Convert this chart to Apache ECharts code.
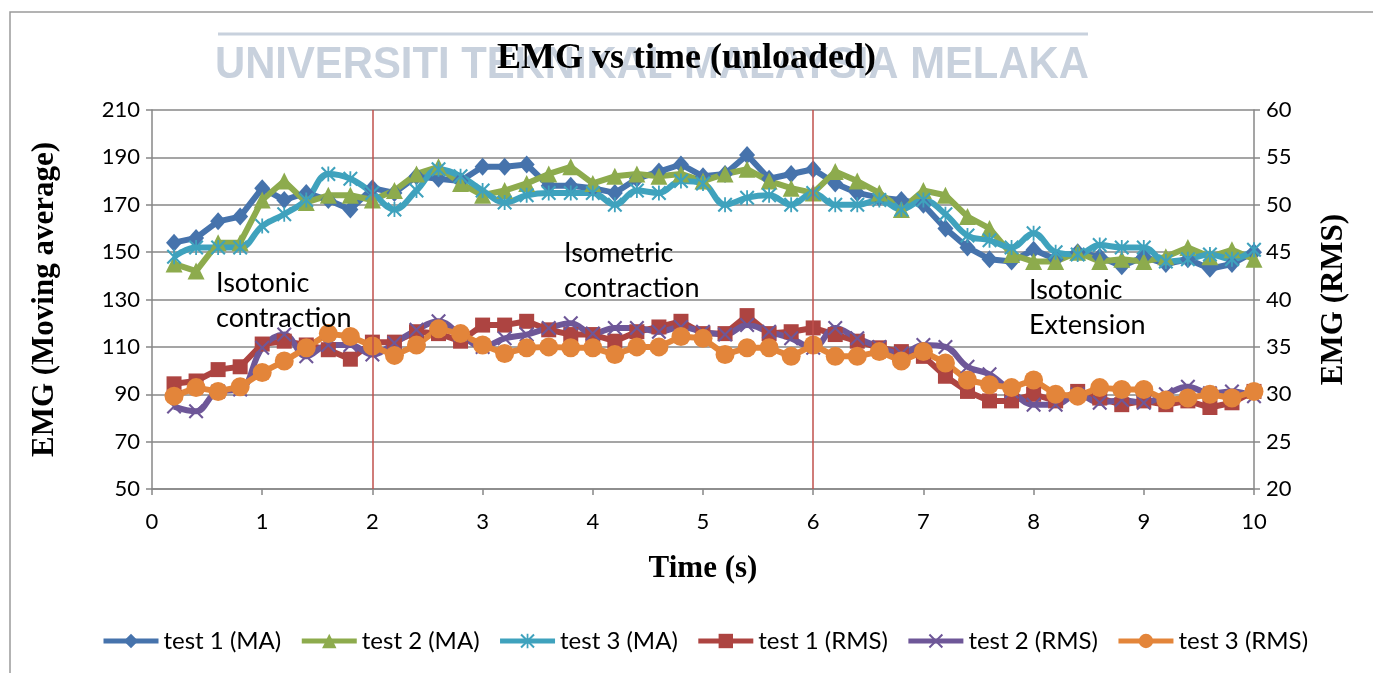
<!DOCTYPE html>
<html>
<head>
<meta charset="utf-8">
<title>EMG vs time (unloaded)</title>
<script src="https://cdn.jsdelivr.net/npm/echarts@6/dist/echarts.min.js"></script>
<style>
  html, body { margin: 0; padding: 0; background: #ffffff; }
  #chart { width: 1373px; height: 673px; }
</style>
</head>
<body>
<div id="chart"></div>
<script>
// Sample times (s)
const timeS = [0.2, 0.4, 0.6, 0.8, 1.0, 1.2, 1.4, 1.6, 1.8, 2.0,
               2.2, 2.4, 2.6, 2.8, 3.0, 3.2, 3.4, 3.6, 3.8, 4.0,
               4.2, 4.4, 4.6, 4.8, 5.0, 5.2, 5.4, 5.6, 5.8, 6.0,
               6.2, 6.4, 6.6, 6.8, 7.0, 7.2, 7.4, 7.6, 7.8, 8.0,
               8.2, 8.4, 8.6, 8.8, 9.0, 9.2, 9.4, 9.6, 9.8, 10.0];

// Moving-average EMG (left axis)
const test1MA = [154, 156, 163, 165, 177, 172, 175, 172, 168, 177,
                 175, 182, 181, 180, 186, 186, 187, 178, 178, 177,
                 175, 181, 184, 187, 182, 183, 191, 181, 183, 185,
                 179, 175, 173, 172, 170, 160, 152, 147, 146, 151,
                 147, 150, 148, 144, 148, 145, 147, 143, 145, 150];
const test2MA = [145, 142, 154, 154, 172, 180, 171, 174, 174, 172,
                 176, 183, 186, 179, 174, 176, 179, 183, 186, 179,
                 182, 183, 182, 183, 180, 183, 185, 180, 177, 175,
                 184, 180, 175, 168, 176, 174, 165, 160, 149, 146,
                 146, 150, 146, 147, 146, 148, 152, 148, 151, 147];
const test3MA = [148, 152, 152, 152, 161, 166, 172, 183, 181, 175,
                 168, 176, 185, 182, 176, 171, 174, 175, 175, 175,
                 170, 176, 175, 180, 179, 170, 173, 174, 170, 175,
                 170, 170, 172, 168, 172, 166, 157, 155, 152, 158,
                 150, 149, 153, 152, 152, 146, 147, 149, 147, 151];

// RMS EMG (right axis)
const test1RMS = [31.1, 31.4, 32.6, 32.9, 35.3, 35.6, 35.2, 34.7, 33.7, 35.5,
                  35.5, 36.6, 36.4, 35.6, 37.3, 37.3, 37.7, 36.8, 36.3, 36.3,
                  35.6, 36.6, 37.1, 37.7, 36.4, 36.4, 38.3, 36.4, 36.6, 37.0,
                  36.3, 35.6, 34.9, 34.5, 34.0, 31.9, 30.3, 29.3, 29.3, 30.0,
                  29.3, 30.3, 29.6, 28.9, 29.3, 28.9, 29.3, 28.6, 29.1, 30.3];
const test2RMS = [28.7, 28.2, 30.3, 30.5, 34.9, 36.3, 34.0, 35.2, 35.2, 34.2,
                  35.4, 36.8, 37.7, 36.3, 35.0, 35.9, 36.3, 37.0, 37.5, 36.4,
                  37.0, 37.0, 36.6, 37.1, 36.6, 36.3, 37.3, 36.6, 35.9, 34.9,
                  37.0, 35.9, 35.0, 34.3, 35.2, 35.0, 32.9, 32.1, 30.3, 28.9,
                  28.9, 30.0, 29.1, 29.4, 29.1, 30.0, 30.8, 30.1, 30.3, 29.8];
const test3RMS = [29.8, 30.7, 30.3, 30.8, 32.3, 33.5, 34.9, 36.4, 36.1, 35.1,
                  34.1, 35.2, 36.9, 36.4, 35.2, 34.3, 34.9, 35.0, 34.9, 34.9,
                  34.2, 35.0, 35.0, 36.1, 35.9, 34.2, 34.9, 34.9, 34.0, 35.2,
                  34.0, 34.0, 34.5, 33.5, 34.5, 33.3, 31.5, 31.0, 30.7, 31.5,
                  30.0, 29.8, 30.7, 30.5, 30.5, 29.4, 29.6, 30.0, 29.6, 30.3];

// Axis ticks and phase boundaries (s)
const timeTicks = { min: 0, max: 10, step: 1 };
const maTicks = { min: 50, max: 210, step: 20 };
const rmsTicks = { min: 20, max: 60, step: 5 };
const phaseBoundaries = [2, 6];

const seriesNames = ['test 1 (MA)', 'test 2 (MA)', 'test 3 (MA)',
                     'test 1 (RMS)', 'test 2 (RMS)', 'test 3 (RMS)'];

const colors = ['#4673AC', '#8DAB4D', '#3FA2BD', '#AD4441', '#6E5798', '#E3853A'];

// Marker shapes: asterisk (x plus vertical bar) and plain x
const starSymbol = 'path://M0,1L1,0L5,4L9,0L10,1L6,5L10,9L9,10L5,6L1,10L0,9L4,5ZM4.4,0L5.6,0L5.6,10L4.4,10Z';
const crossSymbol = 'path://M0,1L1,0L5,4L9,0L10,1L6,5L10,9L9,10L5,6L1,10L0,9L4,5Z';

const pairs = ys => timeS.map((t, i) => [t, ys[i]]);

const uiFont = 'Lato, "Open Sans", sans-serif';
const serifFont = '"Liberation Serif", "DejaVu Serif", serif';
const gridGray = '#878787';

function lineSeries(idx, values, axisIdx, symbol, size, smooth) {
  return {
    name: seriesNames[idx],
    type: 'line',
    yAxisIndex: axisIdx,
    data: pairs(values),
    smooth: smooth,
    symbol: symbol,
    symbolSize: size,
    showAllSymbol: true,
    color: colors[idx],
    lineStyle: { width: 6, color: colors[idx] },
    itemStyle: { color: colors[idx], borderWidth: 0 },
    emphasis: { disabled: true },
    animation: false
  };
}

const series = [
  lineSeries(0, test1MA, 0, 'diamond', [16, 18], false),
  lineSeries(1, test2MA, 0, 'triangle', 17, false),
  lineSeries(2, test3MA, 0, starSymbol, 15, 0.4),
  lineSeries(3, test1RMS, 1, 'rect', 15, false),
  lineSeries(4, test2RMS, 1, crossSymbol, 15, 0.4),
  lineSeries(5, test3RMS, 1, 'circle', 19, false)
];

// Phase boundary lines
series[0].markLine = {
  silent: true,
  symbol: 'none',
  label: { show: false },
  lineStyle: { color: '#C0504D', width: 1.5, type: 'solid' },
  data: phaseBoundaries.map(v => ({ xAxis: v }))
};

const chart = echarts.init(document.getElementById('chart'), null, { renderer: 'canvas' });

chart.setOption({
  backgroundColor: '#ffffff',
  animation: false,
  title: {
    text: 'EMG vs time (unloaded)',
    left: 'center',
    top: 36,
    textStyle: { fontFamily: serifFont, fontWeight: 'bold', fontSize: 36, color: '#000' }
  },
  grid: { left: 152, right: 119, top: 110, bottom: 184, containLabel: false },
  legend: {
    data: seriesNames,
    left: 96,
    top: 624,
    itemWidth: 55,
    itemHeight: 18,
    itemGap: 18,
    lineStyle: { width: 5 },
    textStyle: { fontFamily: uiFont, fontSize: 24, color: '#000' }
  },
  xAxis: {
    type: 'value',
    min: timeTicks.min,
    max: timeTicks.max,
    interval: timeTicks.step,
    name: 'Time (s)',
    nameLocation: 'middle',
    nameGap: 64,
    nameTextStyle: { fontFamily: serifFont, fontWeight: 'bold', fontSize: 31, color: '#000' },
    axisLine: { show: true, lineStyle: { color: gridGray, width: 1.5 } },
    axisTick: { show: true, length: 6, lineStyle: { color: gridGray, width: 1.5 } },
    axisLabel: { margin: 22, fontFamily: uiFont, fontSize: 22, color: '#000' },
    splitLine: { show: false }
  },
  yAxis: [
    {
      type: 'value',
      position: 'left',
      min: maTicks.min,
      max: maTicks.max,
      interval: maTicks.step,
      name: 'EMG (Moving average)',
      nameLocation: 'middle',
      nameRotate: 90,
      nameGap: 92,
      nameTextStyle: { fontFamily: serifFont, fontWeight: 'bold', fontSize: 31, color: '#000' },
      axisLine: { show: true, lineStyle: { color: gridGray, width: 1.5 } },
      axisTick: { show: true, length: 6, lineStyle: { color: gridGray, width: 1.5 } },
      axisLabel: { margin: 12, fontFamily: uiFont, fontSize: 22, color: '#000' },
      splitLine: { show: true, lineStyle: { color: gridGray, width: 1.5 } }
    },
    {
      type: 'value',
      position: 'right',
      min: rmsTicks.min,
      max: rmsTicks.max,
      interval: rmsTicks.step,
      name: 'EMG (RMS)',
      nameLocation: 'middle',
      nameRotate: 90,
      nameGap: 64,
      nameTextStyle: { fontFamily: serifFont, fontWeight: 'bold', fontSize: 31, color: '#000' },
      axisLine: { show: true, lineStyle: { color: gridGray, width: 1.5 } },
      axisTick: { show: true, length: 6, lineStyle: { color: gridGray, width: 1.5 } },
      axisLabel: { margin: 12, fontFamily: uiFont, fontSize: 22, color: '#000' },
      splitLine: { show: false }
    }
  ],
  graphic: [
    // outer chart frame
    {
      type: 'polyline', silent: true, z: -10,
      shape: { points: [[10, 673], [10, 12], [1373, 12]] },
      style: { stroke: '#9a9a9a', lineWidth: 1.5, fill: null }
    },
    // watermark rule and text
    {
      type: 'line', silent: true, z: -5,
      shape: { x1: 218, y1: 34, x2: 1088, y2: 34 },
      style: { stroke: '#c8d1dd', lineWidth: 3 }
    },
    {
      type: 'text', silent: true, z: -5,
      x: 215, y: 44, scaleX: 0.95,
      style: {
        text: 'UNIVERSITI TEKNIKAL MALAYSIA MELAKA',
        font: 'bold 44px "Liberation Sans", Arial, sans-serif',
        fill: '#c8d1dd'
      }
    },
    // phase annotations
    {
      type: 'text', silent: true, z: 50, left: 216, top: 266,
      style: { text: 'Isotonic\ncontraction', font: '27px ' + uiFont, fill: '#000', lineHeight: 35 }
    },
    {
      type: 'text', silent: true, z: 50, left: 564, top: 236,
      style: { text: 'Isometric\ncontraction', font: '27px ' + uiFont, fill: '#000', lineHeight: 35 }
    },
    {
      type: 'text', silent: true, z: 50, left: 1029, top: 273,
      style: { text: 'Isotonic\nExtension', font: '27px ' + uiFont, fill: '#000', lineHeight: 35 }
    }
  ],
  series: series
});
</script>
</body>
</html>
